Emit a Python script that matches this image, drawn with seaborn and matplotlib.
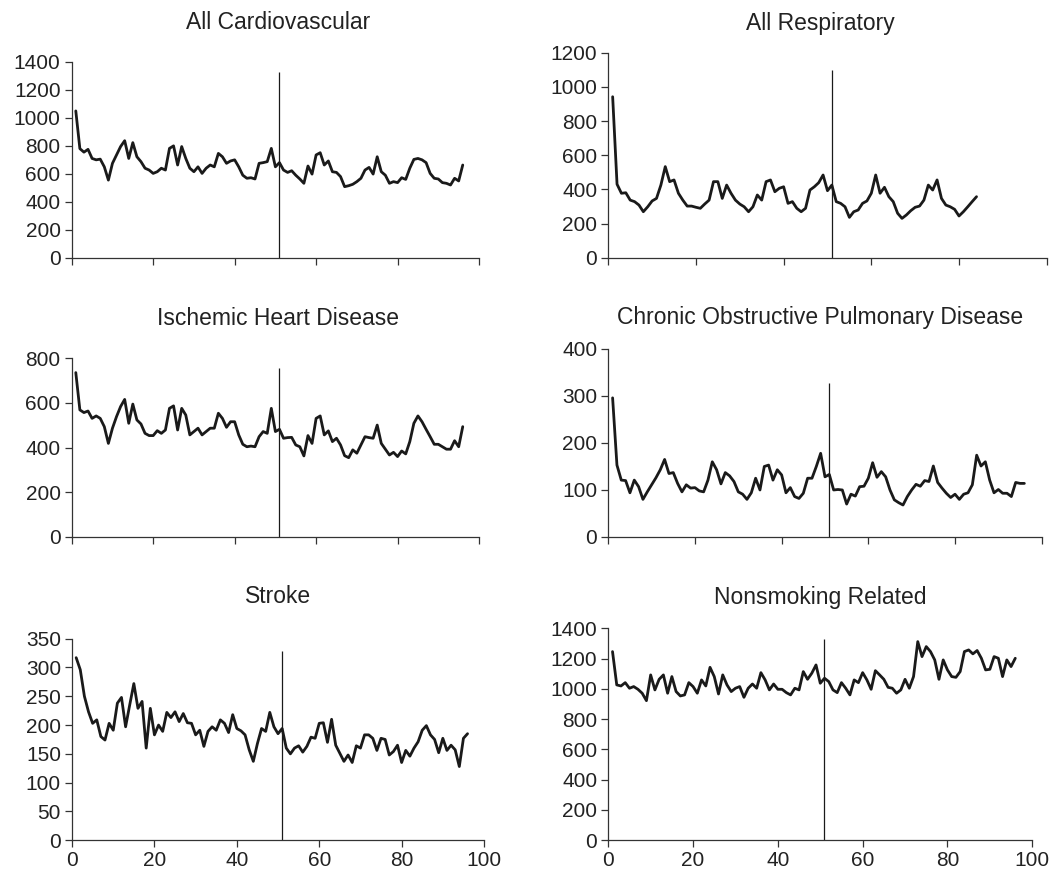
import matplotlib
matplotlib.use("Agg")
import matplotlib.pyplot as plt
import seaborn as sns
import pandas as pd

# values, one per time step (x = 1, 2, ...)
cardio = [1050, 780, 755, 775, 710, 700, 705, 650, 555, 675,
          735, 795, 837, 710, 823, 722, 687, 640, 627, 603,
          615, 640, 627, 782, 800, 663, 795, 710, 640, 615,
          650, 603, 640, 663, 650, 746, 722, 675, 692, 700,
          650, 590, 568, 572, 563, 675, 680, 687, 782, 650,
          680, 627, 610, 622, 590, 563, 532, 656, 598, 735,
          751, 663, 692, 615, 610, 580, 508, 515, 525, 544,
          568, 627, 646, 598, 722, 615, 590, 532, 544, 537,
          572, 560, 640, 703, 710, 700, 680, 603, 568, 563,
          537, 532, 520, 568, 549, 663]

resp = [942, 430, 377, 380, 337, 328, 308, 269, 298, 332,
        347, 425, 533, 445, 455, 377, 337, 302, 302, 295,
        289, 314, 337, 445, 445, 347, 425, 377, 337, 314,
        298, 269, 298, 367, 337, 445, 455, 386, 406, 415,
        318, 328, 289, 269, 289, 396, 415, 439, 484, 392,
        425, 328, 318, 298, 236, 269, 279, 318, 332, 377,
        484, 377, 412, 357, 328, 260, 230, 250, 275, 295,
        302, 337, 425, 396, 455, 347, 308, 298, 283, 244,
        269, 298, 328, 357]

ihd = [736, 569, 557, 564, 531, 542, 531, 494, 419, 487,
       539, 584, 616, 509, 595, 524, 506, 464, 454, 454,
       476, 464, 479, 576, 587, 479, 576, 546, 457, 472,
       487, 457, 472, 487, 487, 554, 531, 491, 516, 516,
       457, 415, 404, 407, 404, 449, 472, 464, 576, 472,
       482, 442, 445, 446, 412, 404, 363, 454, 419, 531,
       542, 457, 475, 427, 442, 412, 364, 355, 390, 375,
       412, 449, 445, 442, 501, 419, 393, 367, 379, 360,
       385, 372, 427, 509, 542, 516, 482, 449, 415, 415,
       404, 393, 393, 431, 404, 494]

copd = [296, 153, 121, 120, 94, 121, 107, 80, 96, 111,
        126, 143, 165, 135, 137, 114, 96, 111, 104, 105,
        98, 96, 121, 160, 143, 113, 137, 130, 118, 96,
        91, 80, 94, 125, 100, 150, 153, 121, 143, 132,
        94, 105, 86, 82, 93, 125, 125, 150, 178, 128,
        133, 100, 101, 100, 70, 91, 87, 107, 108, 125,
        158, 127, 139, 128, 100, 79, 73, 68, 86, 100,
        112, 108, 120, 118, 151, 116, 104, 93, 84, 91,
        80, 91, 94, 111, 174, 151, 160, 121, 94, 101,
        93, 93, 86, 116, 114, 114]

stroke = [317, 296, 250, 223, 203, 209, 180, 174, 203, 191,
          238, 248, 197, 235, 272, 229, 241, 160, 229, 183,
          200, 189, 222, 213, 223, 206, 220, 204, 203, 183,
          191, 163, 189, 197, 191, 209, 203, 187, 218, 194,
          190, 183, 157, 137, 168, 194, 189, 222, 197, 185,
          194, 160, 150, 160, 164, 153, 163, 179, 177, 203,
          204, 170, 210, 165, 151, 137, 148, 135, 164, 160,
          183, 183, 177, 156, 177, 175, 148, 154, 165, 135,
          156, 146, 160, 171, 191, 199, 183, 175, 152, 177,
          156, 165, 157, 128, 177, 185]

nonsmoking = [1246, 1026, 1019, 1041, 1004, 1015, 997, 971, 922, 1092,
              993, 1063, 1092, 971, 1081, 982, 953, 960, 1041, 1015,
              971, 1059, 1019, 1142, 1081, 966, 1092, 1026, 982, 1004,
              1015, 944, 1004, 1032, 1004, 1107, 1059, 993, 1032, 997,
              997, 975, 960, 1004, 993, 1114, 1063, 1103, 1158, 1037,
              1070, 1048, 993, 975, 1041, 1004, 960, 1059, 1041, 1107,
              1059, 997, 1120, 1092, 1063, 1010, 1004, 971, 993, 1063,
              1004, 1081, 1312, 1213, 1279, 1246, 1191, 1063, 1191, 1125,
              1081, 1076, 1114, 1246, 1257, 1231, 1253, 1202, 1125, 1129,
              1213, 1202, 1081, 1191, 1147, 1202]

titles = ["All Cardiovascular", "All Respiratory", "Ischemic Heart Disease",
          "Chronic Obstructive Pulmonary Disease", "Stroke", "Nonsmoking Related"]
series = [cardio, resp, ihd, copd, stroke, nonsmoking]
y_max = [1400, 1200, 800, 400, 350, 1400]
y_step = [200, 200, 200, 100, 50, 200]
cut_x = [51, 51, 51, 51, 51, 51]
cut_top = [1330, 1100, 755, 328, 329, 1330]
x_ticks = [0, 20, 40, 60, 80, 100]

sns.set_theme(style="ticks")
plt.rcParams['font.family'] = ['Liberation Sans', 'DejaVu Sans']

fig = plt.figure(figsize=(10.61, 8.72), dpi=100)

boxes = [(0.0676, 0.7045, 0.3839, 0.2244),
         (0.5733, 0.7045, 0.4132, 0.2351),
         (0.0676, 0.3842, 0.3839, 0.2049),
         (0.5733, 0.3842, 0.4085, 0.2156),
         (0.0679, 0.0364, 0.3883, 0.2312),
         (0.5733, 0.0364, 0.3996, 0.2431)]
title_pos = [(278, 29), (820, 30), (278, 325), (820, 324), (278, 603), (820, 604)]

ink = '#1a1a1a'
for i, (name, vals) in enumerate(zip(titles, series)):
    ax = fig.add_axes(boxes[i])
    df = pd.DataFrame({'t': range(1, len(vals) + 1), 'v': vals})
    sns.lineplot(data=df, x='t', y='v', ax=ax, color=ink, linewidth=2.0,
                 solid_joinstyle='round', solid_capstyle='round')
    ax.vlines(cut_x[i], 0, cut_top[i], color=ink, linewidth=0.9)

    ax.set_xlim(0, 100)
    ax.set_ylim(0, y_max[i])
    ax.set_xticks(x_ticks)
    ax.set_yticks(range(0, y_max[i] + 1, y_step[i]))
    ax.set_xlabel('')
    ax.set_ylabel('')
    sns.despine(ax=ax)
    for s in ['left', 'bottom']:
        ax.spines[s].set_color('#333333')
        ax.spines[s].set_linewidth(0.9)
    ax.tick_params(axis='both', direction='out', length=5, width=0.9,
                   color='#333333', labelsize=15, labelcolor='#222222', pad=3)
    if i < 4:
        ax.tick_params(axis='x', labelbottom=False)

    tx, ty = title_pos[i]
    fig.text(tx / 1061, 1 - ty / 872, name, ha='center', va='baseline',
             fontsize=16.5, color='#222222')

plt.savefig('out.png', dpi=100)
